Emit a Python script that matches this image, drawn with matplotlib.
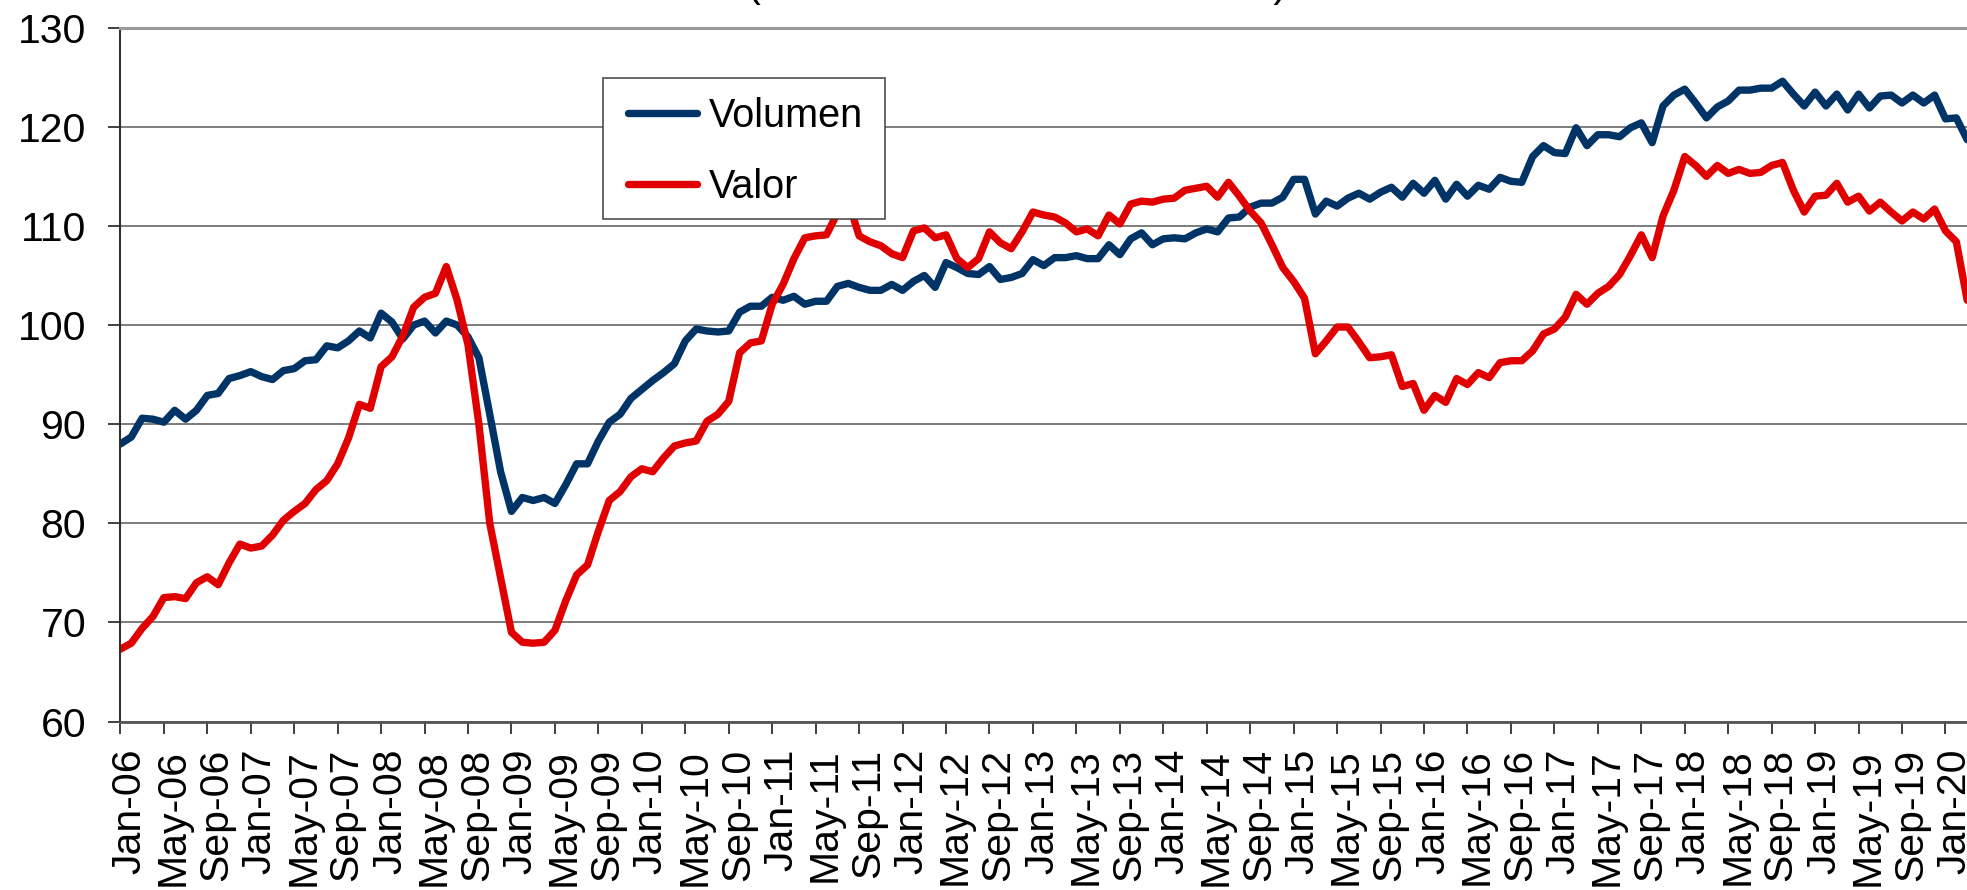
import numpy as np
import matplotlib
matplotlib.use('Agg')
from matplotlib import pyplot as plt
from matplotlib import transforms
from matplotlib.patches import Rectangle

plt.rcParams['font.family'] = ['Liberation Sans', 'DejaVu Sans']

# monthly index, Jan-06 .. Mar-20 (one row per year)
volumen = [
    88.0, 88.7, 90.6, 90.5, 90.2, 91.4, 90.5, 91.4, 92.9, 93.1, 94.6, 94.9,
    95.3, 94.8, 94.5, 95.4, 95.6, 96.4, 96.5, 97.9, 97.7, 98.4, 99.4, 98.7,
    101.2, 100.3, 98.6, 100.0, 100.4, 99.2, 100.4, 100.0, 98.8, 96.7, 91.0, 85.2,
    81.2, 82.6, 82.3, 82.6, 82.0, 83.9, 86.0, 86.0, 88.3, 90.2, 91.0, 92.6,
    93.5, 94.4, 95.2, 96.1, 98.4, 99.6, 99.4, 99.3, 99.4, 101.3, 101.9, 101.9,
    102.8, 102.5, 102.9, 102.1, 102.4, 102.4, 103.9, 104.2, 103.8, 103.5, 103.5, 104.1,
    103.5, 104.4, 105.0, 103.8, 106.3, 105.8, 105.2, 105.1, 105.9, 104.6, 104.8, 105.2,
    106.6, 106.0, 106.8, 106.8, 107.0, 106.7, 106.7, 108.1, 107.1, 108.7, 109.3, 108.1,
    108.7, 108.8, 108.7, 109.3, 109.7, 109.4, 110.8, 110.9, 111.9, 112.3, 112.3, 112.9,
    114.7, 114.7, 111.2, 112.5, 112.0, 112.8, 113.3, 112.7, 113.4, 113.9, 112.9, 114.3,
    113.3, 114.6, 112.7, 114.2, 113.0, 114.1, 113.7, 114.9, 114.5, 114.4, 117.0, 118.1,
    117.4, 117.3, 119.9, 118.1, 119.2, 119.2, 119.0, 119.9, 120.4, 118.4, 122.1, 123.2,
    123.8, 122.4, 120.9, 122.0, 122.6, 123.7, 123.7, 123.9, 123.9, 124.6, 123.3, 122.1,
    123.5, 122.1, 123.3, 121.7, 123.3, 121.9, 123.1, 123.2, 122.4, 123.2, 122.4, 123.2,
    120.8, 120.9, 118.7,
]
valor = [
    67.3, 67.9, 69.4, 70.6, 72.5, 72.6, 72.4, 74.0, 74.6, 73.8, 76.0, 77.9,
    77.5, 77.7, 78.8, 80.3, 81.2, 82.0, 83.4, 84.3, 86.0, 88.6, 92.0, 91.6,
    95.8, 96.8, 98.9, 101.8, 102.8, 103.2, 105.9, 102.5, 98.0, 90.0, 80.0, 74.5,
    69.0, 68.0, 67.9, 68.0, 69.2, 72.2, 74.8, 75.8, 79.2, 82.3, 83.2, 84.7,
    85.5, 85.2, 86.6, 87.8, 88.1, 88.3, 90.3, 91.0, 92.3, 97.2, 98.2, 98.4,
    102.1, 104.1, 106.7, 108.8, 109.0, 109.1, 111.3, 112.5, 109.0, 108.4, 108.0, 107.2,
    106.8, 109.5, 109.8, 108.8, 109.1, 106.7, 105.8, 106.7, 109.4, 108.3, 107.7, 109.4,
    111.4, 111.1, 110.9, 110.3, 109.4, 109.7, 109.0, 111.1, 110.2, 112.2, 112.5, 112.4,
    112.7, 112.8, 113.6, 113.8, 114.0, 112.9, 114.4, 113.0, 111.5, 110.3, 108.1, 105.8,
    104.4, 102.7, 97.1, 98.4, 99.8, 99.8, 98.3, 96.7, 96.8, 97.0, 93.8, 94.1,
    91.4, 92.9, 92.2, 94.6, 94.0, 95.2, 94.7, 96.2, 96.4, 96.4, 97.4, 99.1,
    99.6, 100.8, 103.1, 102.1, 103.2, 103.9, 105.1, 107.0, 109.1, 106.8, 111.0, 113.6,
    117.0, 116.1, 115.0, 116.1, 115.3, 115.7, 115.3, 115.4, 116.1, 116.4, 113.6, 111.4,
    113.0, 113.1, 114.3, 112.4, 113.0, 111.5, 112.4, 111.4, 110.5, 111.4, 110.7, 111.7,
    109.5, 108.4, 102.5,
]
meses = np.arange(len(volumen))
tick_labels = ['%s-%02d' % (m, y) for y in range(6, 21)
               for m in ('Jan', 'May', 'Sep')][:43]
subtitulo = '(Índices de base 2010 = 100)'

fig = plt.figure(figsize=(19.67, 8.90), dpi=100)
ax = fig.add_axes([0.0612, 0.1893, 0.9389, 0.7796])

ax.plot(meses, volumen, color='#003366', lw=5.3, label='Volumen',
        solid_capstyle='round')
ax.plot(meses, valor, color='#e00000', lw=5.3, label='Valor',
        solid_capstyle='round')

ax.set_xlim(0, 170)
ax.set_ylim(60, 130)
ax.set_yticks(range(60, 131, 10))
ax.set_xticks(meses[::4])
ax.set_xticklabels(tick_labels, rotation=90)
ax.tick_params(labelsize=29.5, length=8.6, width=1.4, color='#404040',
               direction='out')
ax.tick_params(axis='y', pad=16)
ax.tick_params(axis='x', pad=11)
ax.yaxis.grid(True, color='#5a5a5a', lw=1.1)
ax.set_axisbelow(True)

# month labels sit a little right of their tick in the original
shift = transforms.ScaledTranslation(0.09, 0, fig.dpi_scale_trans)
for lbl in ax.get_xticklabels():
    lbl.set_transform(lbl.get_transform() + shift)

ax.spines['right'].set_visible(False)
ax.spines['top'].set_color('#999999')
ax.spines['top'].set_linewidth(2.2)
ax.spines['left'].set_color('#303030')
ax.spines['left'].set_linewidth(1.5)
ax.spines['bottom'].set_color('#555555')
ax.spines['bottom'].set_linewidth(2.0)

# legend box drawn by hand so it can sit exactly where the original is
fig.add_artist(Rectangle((0.3064, 0.7539), 0.1437, 0.1588,
                         transform=fig.transFigure, facecolor='white',
                         edgecolor='#404040', lw=1.1, zorder=3))
fig.legend(loc='upper left', bbox_to_anchor=(628 / 1967, 1 - 97 / 890),
           frameon=False, fontsize=28.5, handlelength=1.75,
           handletextpad=0.3, labelspacing=0.83, borderpad=0,
           borderaxespad=0)

# subtitle sits above the canvas, only its lower edge shows
fig.text(0.517, 1.0046, subtitulo, ha='center', va='baseline', fontsize=30)

fig.savefig('out.png', dpi=100)
